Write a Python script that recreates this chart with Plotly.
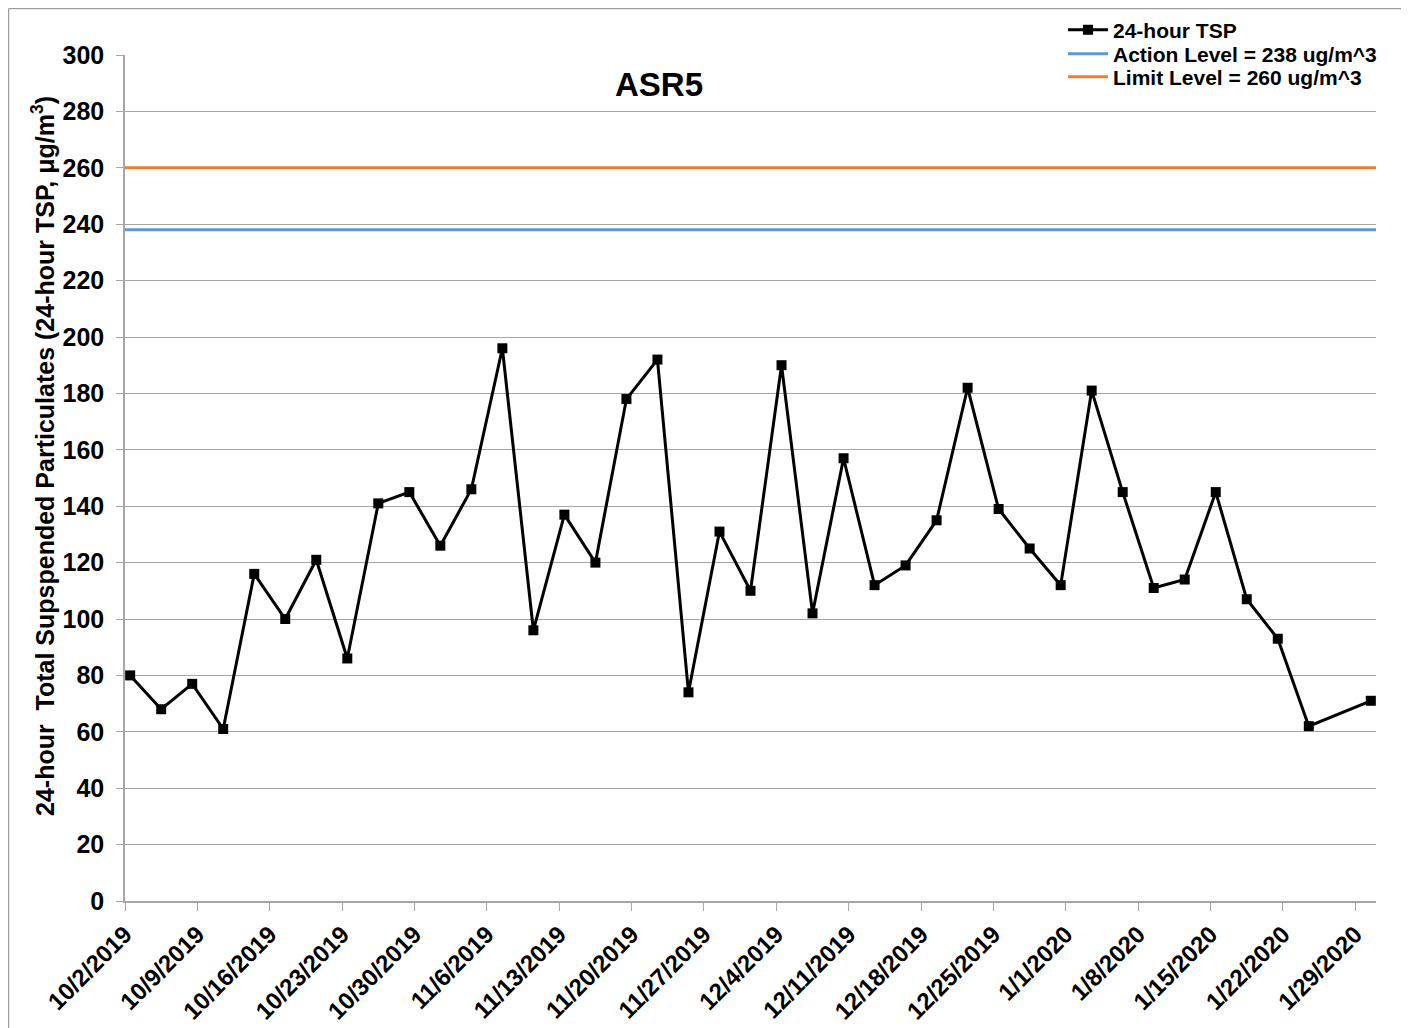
import plotly.graph_objects as go

# ---- data ----
dates = [
    "2019-10-02 12:00", "2019-10-05 12:00", "2019-10-08 12:00", "2019-10-11 12:00",
    "2019-10-14 12:00", "2019-10-17 12:00", "2019-10-20 12:00", "2019-10-23 12:00",
    "2019-10-26 12:00", "2019-10-29 12:00", "2019-11-01 12:00", "2019-11-04 12:00",
    "2019-11-07 12:00", "2019-11-10 12:00", "2019-11-13 12:00", "2019-11-16 12:00",
    "2019-11-19 12:00", "2019-11-22 12:00", "2019-11-25 12:00", "2019-11-28 12:00",
    "2019-12-01 12:00", "2019-12-04 12:00", "2019-12-07 12:00", "2019-12-10 12:00",
    "2019-12-13 12:00", "2019-12-16 12:00", "2019-12-19 12:00", "2019-12-22 12:00",
    "2019-12-25 12:00", "2019-12-28 12:00", "2019-12-31 12:00", "2020-01-03 12:00",
    "2020-01-06 12:00", "2020-01-09 12:00", "2020-01-12 12:00", "2020-01-15 12:00",
    "2020-01-18 12:00", "2020-01-21 12:00", "2020-01-24 12:00", "2020-01-30 12:00",
]
tsp = [
    80, 68, 77, 61, 116, 100, 121, 86, 141, 145, 126, 146, 196, 96, 137, 120,
    178, 192, 74, 131, 110, 190, 102, 157, 112, 119, 135, 182, 139, 125, 112, 181,
    145, 111, 114, 145, 107, 93, 62, 71,
]
action_level = 238
limit_level = 260
x_range = ["2019-10-02", "2020-01-31"]
tick_dates = [
    "2019-10-02", "2019-10-09", "2019-10-16", "2019-10-23", "2019-10-30",
    "2019-11-06", "2019-11-13", "2019-11-20", "2019-11-27", "2019-12-04",
    "2019-12-11", "2019-12-18", "2019-12-25", "2020-01-01", "2020-01-08",
    "2020-01-15", "2020-01-22", "2020-01-29",
]
tick_labels = [
    "10/2/2019", "10/9/2019", "10/16/2019", "10/23/2019", "10/30/2019",
    "11/6/2019", "11/13/2019", "11/20/2019", "11/27/2019", "12/4/2019",
    "12/11/2019", "12/18/2019", "12/25/2019", "1/1/2020", "1/8/2020",
    "1/15/2020", "1/22/2020", "1/29/2020",
]
y_ticks = list(range(0, 301, 20))

FONT = "Arial, Liberation Sans, sans-serif"
OFF = 8  # page body offset
W, H = 1409 - OFF, 1028 - OFF
L, R, T, B = 125 - OFF, 1376 - OFF, 55 - OFF, 901 - OFF


def px_x(p):
    return (p - OFF - L) / (R - L)


def px_y(p):
    return (B - (p - OFF)) / (B - T)


fig = go.Figure()
fig.add_trace(go.Scatter(
    x=dates, y=tsp, mode="lines+markers", name="24-hour TSP",
    line=dict(color="black", width=3),
    marker=dict(symbol="square", size=10, color="black"),
    legend="legend",
))
fig.add_trace(go.Scatter(
    x=x_range, y=[action_level, action_level], mode="lines",
    name="Action Level = 238 ug/m^3",
    line=dict(color="#5B9BD5", width=3),
    legend="legend2",
))
fig.add_trace(go.Scatter(
    x=x_range, y=[limit_level, limit_level], mode="lines",
    name="Limit Level = 260 ug/m^3",
    line=dict(color="#ED7D31", width=3),
    legend="legend3",
))

leg_font = dict(family=FONT, size=21, weight="bold", color="black")


def leg(ypix):
    return dict(
        x=px_x(1063), y=px_y(ypix), xanchor="left", yanchor="middle",
        font=leg_font, bgcolor="rgba(0,0,0,0)", borderwidth=0,
        itemwidth=40,
    )


fig.update_layout(
    width=W, height=H,
    margin=dict(l=L, r=W - R, t=T, b=H - B, autoexpand=False),
    paper_bgcolor="white", plot_bgcolor="white",
    font=dict(family=FONT, color="black"),
    showlegend=True,
    legend=leg(30),
    legend2=leg(54),
    legend3=leg(77),
    xaxis=dict(
        type="date", range=x_range,
        tickmode="array", tickvals=tick_dates, ticktext=tick_labels,
        tickangle=-45,
        tickfont=dict(family=FONT, size=24, weight="bold", color="black"),
        showgrid=False, zeroline=False,
        showline=True, linecolor="#A6A6A6", linewidth=1.5,
        ticks="outside", ticklen=8, tickcolor="#A6A6A6", tickwidth=1,
    ),
    yaxis=dict(
        range=[0, 300], tickmode="array", tickvals=y_ticks,
        tickfont=dict(family=FONT, size=25, weight="bold", color="black"),
        ticklabelstandoff=7,
        showgrid=True, gridcolor="#A6A6A6", gridwidth=1,
        zeroline=False,
        showline=True, linecolor="#A6A6A6", linewidth=1.5,
        ticks="outside", ticklen=7, tickcolor="#A6A6A6", tickwidth=1,
    ),
    annotations=[
        dict(
            text="<b>ASR5</b>", x=px_x(659), y=px_y(84), xref="paper", yref="paper",
            showarrow=False, font=dict(family=FONT, size=33, color="black"),
            xanchor="center", yanchor="middle",
        ),
        dict(
            text="<b>24-hour  Total Supspended Particulates (24-hour TSP, μg/m<sup>3</sup>)</b>",
            x=px_x(43), y=px_y(456), xref="paper", yref="paper",
            showarrow=False, textangle=-90,
            font=dict(family=FONT, size=25, color="black"),
            xanchor="center", yanchor="middle",
        ),
    ],
    shapes=[
        dict(type="line", xref="paper", yref="paper",
             x0=px_x(8.5), x1=px_x(8.5), y0=px_y(8.5), y1=px_y(1060),
             line=dict(color="#A0A0A0", width=1.5)),
        dict(type="line", xref="paper", yref="paper",
             x0=px_x(8.5), x1=px_x(1440), y0=px_y(8.5), y1=px_y(8.5),
             line=dict(color="#A0A0A0", width=1.5)),
    ],
)

fig.write_html("out.html")
